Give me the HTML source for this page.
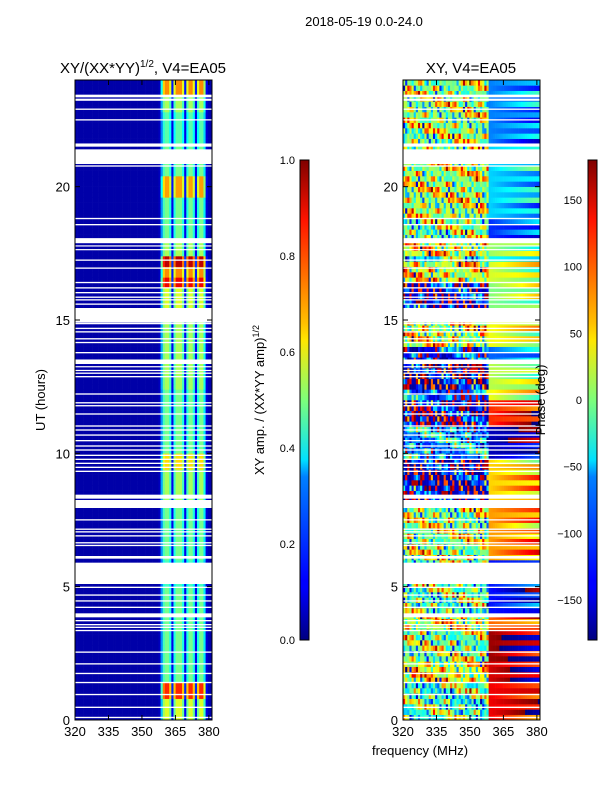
<!DOCTYPE html>
<html><head><meta charset="utf-8">
<style>
html,body{margin:0;padding:0;background:#fff;width:600px;height:800px;overflow:hidden}
svg text{font-family:"Liberation Sans",sans-serif;fill:#000}
</style></head>
<body>
<svg id="fig" width="600" height="800" viewBox="0 0 600 800" xmlns="http://www.w3.org/2000/svg">
<defs>
<linearGradient id="jet" x1="0" y1="1" x2="0" y2="0">
<stop offset="0" stop-color="#000080"/><stop offset="0.11" stop-color="#0000ff"/>
<stop offset="0.125" stop-color="#0000ff"/><stop offset="0.34" stop-color="#0080ff"/>
<stop offset="0.375" stop-color="#00e0ff"/><stop offset="0.5" stop-color="#7dff7a"/>
<stop offset="0.625" stop-color="#ffe600"/><stop offset="0.66" stop-color="#ffc000"/>
<stop offset="0.875" stop-color="#ff1300"/><stop offset="1" stop-color="#800000"/>
</linearGradient>
</defs>
<text x="364" y="26" font-size="13" text-anchor="middle">2018-05-19 0.0-24.0</text>
<text x="143" y="73" font-size="15" text-anchor="middle">XY/(XX*YY)<tspan font-size="10" dy="-6">1/2</tspan><tspan dy="6">, V4=EA05</tspan></text>
<text x="471" y="73" font-size="15" text-anchor="middle">XY, V4=EA05</text>
<g id="left"></g>
<g id="right"></g>
<g id="axes"></g>
<text transform="translate(45,400) rotate(-90)" font-size="13" text-anchor="middle">UT (hours)</text>
<text x="420" y="755" font-size="13" text-anchor="middle">frequency (MHz)</text>
<rect x="300" y="160" width="9" height="480" fill="url(#jet)" stroke="#000" stroke-width="1"/>
<rect x="588" y="160" width="9" height="480" fill="url(#jet)" stroke="#000" stroke-width="1"/>
<text transform="translate(264,400) rotate(-90)" font-size="13" text-anchor="middle">XY amp. / (XX*YY amp)<tspan font-size="9" dy="-5">1/2</tspan></text>
<text transform="translate(545,400) rotate(-90)" font-size="13" text-anchor="middle">Phase (deg)</text>
</svg>
<script>
const NS="http://www.w3.org/2000/svg";
// ---- data ----
const nChan=64;
const fMin=320, fMax=381.4;
const chanProfile=[0.02,0.02,0.02,0.02,0.02,0.02,0.02,0.02,0.02,0.02,0.02,0.02,0.02,0.02,0.02,0.02,
0.02,0.02,0.02,0.02,0.02,0.02,0.02,0.02,0.02,0.02,0.02,0.02,0.02,0.02,0.02,0.02,
0.02,0.02,0.02,0.02,0.02,0.02,0.02,0.04,0.5,0.9,1.0,1.0,0.8,0.15,0.8,1.0,1.0,1.0,
0.8,0.15,0.8,1.0,1.0,0.8,0.15,0.8,1.0,1.0,0.7,0.1,0.03,0.02];
const ampSegStart=[0,0.8,1.5,3.5,5,6,8.3,9.5,10,12.5,15.5,16.3,16.7,17.1,17.4,18,19.6,20.4,21.6,22.8,23.4];
const ampSegEnd  =[0.8,1.5,3.5,5,6,8.3,9.5,10,12.5,15.5,16.3,16.7,17.1,17.4,18,19.6,20.4,21.6,22.8,23.4,24];
const ampLevel   =[0.55,0.8,0.45,0.45,0.4,0.45,0.5,0.62,0.45,0.5,0.55,0.85,0.7,0.9,0.5,0.45,0.68,0.45,0.42,0.5,0.7];
const phSegStart=[0,1.5,2.3,3.5,4,6,8.3,9.8,11,12,12.5,13.5,14,15.5,16.4,17.2,17.5,18,18.8,21.6];
const phSegEnd  =[1.5,2.3,3.5,4,6,8.3,9.8,11,12,12.5,13.5,14,15.5,16.4,17.2,17.5,18,18.8,21.6,24];
const phLeft    =[0,60,20,50,10,30,-140,-60,-140,-90,-150,-110,50,-130,60,-20,60,20,40,30];
const phRight   =[140,150,170,100,-130,80,60,-160,120,40,20,-100,40,0,30,-40,10,-120,-60,-90];
const chanTex=[90,-80,40,150,-120,10,-60,110,-150,70,-20,130,-90,30,-140,60,
-40,160,-100,20,80,-130,50,-10,120,-70,170,-30,100,-110,0,140,
-60,90,-150,40,-90,70,-30,20];
const rowMix=[1,-0.6,0.4,-1,0.8,-0.3,0.6,-0.8,0.2,-0.5,1,-0.2];
const flagStart=[23.35,23.22,22.88,22.48,21.5,20.85,20.75,18.78,18.55,17.88,17.76,17.62,17.22,16.92,16.38,16.18,16.0,15.83,15.73,15.57,14.9,14.84,14.66,14.53,14.27,14.13,13.75,13.35,13.23,13.09,12.98,12.85,12.2,11.87,11.76,11.45,11.0,10.85,10.66,10.45,10.25,10.1,9.9,9.75,9.6,9.45,9.3,8.3,7.95,7.48,7.13,7.03,6.88,6.62,6.52,6.05,5.1,4.95,4.66,4.44,4.2,3.85,3.7,3.55,3.45,3.33,2.52,2.08,1.72,1.38,0.93,0.45,0.07];
const flagEnd  =[23.45,23.3,22.93,22.53,21.62,21.4,20.8,18.83,18.6,18.07,17.8,17.66,17.27,16.97,16.43,16.23,16.05,15.88,15.78,15.62,15.45,14.89,14.71,14.58,14.32,14.18,13.8,13.52,13.27,13.13,13.03,12.9,12.25,11.92,11.81,11.5,11.05,10.9,10.71,10.5,10.3,10.15,9.95,9.8,9.65,9.5,9.35,8.45,8.25,7.53,7.18,7.08,6.93,6.67,6.57,6.15,5.9,5.0,4.71,4.49,4.25,4.0,3.75,3.6,3.5,3.38,2.57,2.13,1.77,1.43,0.98,0.5,0.12];
const yTicks=[0,5,10,15,20];
const xTicks=[320,335,350,365,380];
const ampTicks=[0.0,0.2,0.4,0.6,0.8,1.0];
const phTicks=[-150,-100,-50,0,50,100,150];
// ---- scales ----
const yTop=80,yBot=720;
const yS=h=>yBot-(h/24)*(yBot-yTop);
const panels=[{x0:75,x1:212,g:"left"},{x0:403,x1:540,g:"right"}];
function jet(v){v=Math.max(0,Math.min(1,v));
 const r=Math.max(0,Math.min(1,1.5-Math.abs(4*v-3)));
 const g=Math.max(0,Math.min(1,1.5-Math.abs(4*v-2)));
 const b=Math.max(0,Math.min(1,1.5-Math.abs(4*v-1)));
 return `rgb(${Math.round(r*255)},${Math.round(g*255)},${Math.round(b*255)})`;}
function find(st,en,h){for(let i=0;i<st.length;i++)if(h>=st[i]&&h<en[i])return i;return -1;}
const rowH=0.2, nRows=Math.round(24/rowH);
function drawHeat(p,valFn){
 const g=document.getElementById(p.g);
 const cw=(p.x1-p.x0)/nChan;
 for(let r=0;r<nRows;r++){
  const h0=r*rowH, hc=h0+rowH/2;
  for(let c=0;c<nChan;c++){
   const rc=document.createElementNS(NS,"rect");
   
   
   rc.setAttribute("x",(p.x0+c*cw).toFixed(2));
   rc.setAttribute("y",yS(h0+rowH).toFixed(2));
   rc.setAttribute("width",(cw+0.3).toFixed(2));
   rc.setAttribute("height",(yS(h0)-yS(h0+rowH)+0.3).toFixed(2));
   rc.setAttribute("fill",jet(valFn(r,c,hc)));
   g.appendChild(rc);
  }
 }
 for(let i=0;i<flagStart.length;i++){
  const fr=document.createElementNS(NS,"rect");
  
  
  fr.setAttribute("x",p.x0);fr.setAttribute("width",p.x1-p.x0);
  fr.setAttribute("y",yS(flagEnd[i]));
  fr.setAttribute("height",Math.max(1.2,yS(flagStart[i])-yS(flagEnd[i])));
  fr.setAttribute("fill","#fff");
  g.appendChild(fr);
 }
}
drawHeat(panels[0],(r,c,h)=>{
 const i=find(ampSegStart,ampSegEnd,h);const lv=i<0?0.5:ampLevel[i];
 const base=chanProfile[c];
 if(base<0.1) return base+0.02+(h>17.3&&h<17.5?0.2:0);
 return Math.min(1,base*lv+0.04);
});
drawHeat(panels[1],(r,c,h)=>{
 const i=find(phSegStart,phSegEnd,h);
 const pl=i<0?0:phLeft[i], pr=i<0?0:phRight[i];
 let ph;
 if(c<40) ph=pl+chanTex[(c+r*7)%40]*rowMix[(r+c)%rowMix.length];
 else ph=pr+(c-40)*3*rowMix[(r+3)%rowMix.length];
 ph=((ph+180)%360+360)%360-180;
 return (ph+180)/360;
});
// ---- axes ----
const ax=document.getElementById("axes");
function el(tag,attrs,name,txt){const e=document.createElementNS(NS,tag);for(const k in attrs)e.setAttribute(k,attrs[k]);
 
 
 if(txt!==undefined)e.textContent=txt;ax.appendChild(e);return e;}
panels.forEach(p=>{
 const xS=f=>p.x0+(f-fMin)/(fMax-fMin)*(p.x1-p.x0);
 el("rect",{x:p.x0,y:yTop,width:p.x1-p.x0,height:yBot-yTop,fill:"none",stroke:"#000","stroke-width":1},"plot-frame");
 yTicks.forEach(t=>{const y=yS(t);
  el("line",{x1:p.x0,x2:p.x0+5,y1:y,y2:y,stroke:"#000"},"y-tick");
  el("line",{x1:p.x1-5,x2:p.x1,y1:y,y2:y,stroke:"#000"},"y-tick");
  el("text",{x:p.x0-5,y:y+5,"font-size":13,"text-anchor":"end"},"y-tick-label",String(t));});
 xTicks.forEach(t=>{const x=xS(t);
  el("line",{x1:x,x2:x,y1:yBot,y2:yBot-5,stroke:"#000"},"x-tick");
  el("line",{x1:x,x2:x,y1:yTop,y2:yTop+5,stroke:"#000"},"x-tick");
  el("text",{x:x,y:yBot+16,"font-size":13,"text-anchor":"middle"},"x-tick-label",String(t));});
});
ampTicks.forEach(t=>{const y=640-t*480;
 el("line",{x1:300,x2:309,y1:y,y2:y,stroke:"#000"},"amp-colorbar-tick");
 el("text",{x:295,y:y+4,"font-size":11,"text-anchor":"end"},"amp-colorbar-label",t.toFixed(1));});
phTicks.forEach(t=>{const y=640-(t+180)/360*480;
 el("line",{x1:588,x2:597,y1:y,y2:y,stroke:"#000"},"phase-colorbar-tick");
 el("text",{x:582,y:y+4,"font-size":11,"text-anchor":"end"},"phase-colorbar-label",t<0?"\u2212"+(-t):String(t));});
</script>
</body></html>
